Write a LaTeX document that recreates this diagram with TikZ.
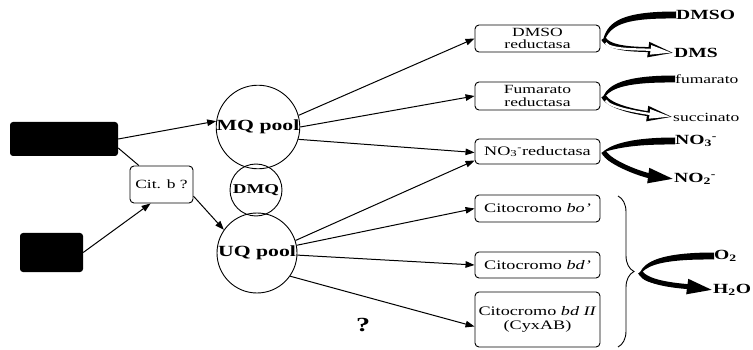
\documentclass[tikz,border=0pt]{standalone}
\usepackage{fontspec}
\setmainfont{Liberation Serif}[FakeStretch=1.4]
\usetikzlibrary{arrows.meta, calc, decorations.pathreplacing}

\begin{document}
\begin{tikzpicture}[x=1pt, y=-1pt,
    enzyme/.style={draw, line width=0.9pt, rounded corners=4pt, minimum width=125pt,
        inner sep=1pt, align=center, font=\fontsize{12.5}{12.5}\selectfont},
    pool/.style={draw, circle, line width=0.9pt, inner sep=0pt,
        font=\bfseries\fontsize{15.5}{17}\selectfont},
    donor/.style={fill=black, rounded corners=3pt},
    flow/.style={line width=1pt, -{Triangle[length=9pt,width=6.5pt]}},
    product/.style={anchor=west, inner sep=0pt, font=\bfseries\fontsize{14}{15}\selectfont}]
    \useasboundingbox (0,0) rectangle (753,350);

    % electron donors and cytochrome b
    \node[donor, minimum width=108pt, minimum height=34pt] (don1) at (64,139) {};
    \node[donor, minimum width=63pt, minimum height=39pt] (don2) at (51.5,252.5) {};
    \node[draw, line width=0.9pt, rounded corners=4pt, minimum width=63pt, minimum height=37pt,
        inner sep=1pt, font=\fontsize{12.5}{13}\selectfont] (citb) at (161.5,184.5) {Cit. b ?};

    % quinone pools
    \node[pool, minimum size=79pt] (mq) at (258,127) {MQ pool};
    \node[pool, minimum size=52pt, font=\bfseries\fontsize{13.5}{15}\selectfont] (dmq) at (256,190) {DMQ};
    \node[pool, minimum size=80pt] (uq) at (257,253) {UQ pool};

    % terminal enzymes
    \node[enzyme, minimum height=27pt] (dmso) at (537.5,38.5) {DMSO\\reductasa};
    \node[enzyme, minimum height=28pt] (fum) at (537.5,96) {Fumarato\\reductasa};
    \node[enzyme, minimum height=25pt, font=\fontsize{13}{14}\selectfont] (no3) at (537.5,151.5) {NO\textsubscript{3}\textsuperscript{-}reductasa};
    \node[enzyme, minimum height=27pt, font=\fontsize{13}{14}\selectfont] (bo) at (537.5,208.5) {Citocromo \textit{bo'}};
    \node[enzyme, minimum height=26pt, font=\fontsize{13}{14}\selectfont] (bd) at (537.5,265) {Citocromo \textit{bd'}};
    \node[enzyme, minimum height=55pt, font=\fontsize{13}{14}\selectfont] (bdii) at (537.5,319.5) {Citocromo \textit{bd II}\\(CyxAB)};

    \node[font=\bfseries\fontsize{20}{22}\selectfont] (q) at (363,325) {?};

    % substrates and products
    \node[product] (dmsoa) at (676,15) {DMSO};
    \node[product] (dms) at (674,53) {DMS};
    \node[product, font=\fontsize{12.5}{14}\selectfont] (fuma) at (675,79) {fumarato};
    \node[product, font=\fontsize{12.5}{14}\selectfont] (succ) at (673,117) {succinato};
    \node[product] (nitra) at (675,141) {NO\textsubscript{3}\textsuperscript{-}};
    \node[product] (nitri) at (674,179) {NO\textsubscript{2}\textsuperscript{-}};
    \node[product] (oxy) at (714,256) {O\textsubscript{2}};
    \node[product] (water) at (713,290) {H\textsubscript{2}O};

    % connectors
    \draw[flow] (don1.east) -- (mq.172);
    \draw[line width=1pt] ([yshift=-9pt]don1.east) -- (citb.140);
    \draw[flow] (don2.east) -- (citb.240);
    \draw[flow] (citb.-20) -- (uq.145);

    \draw[flow] (mq.16) -- (dmso.west);
    \draw[flow] (mq.0) -- (fum.west);
    \draw[flow] (mq.-17) -- ([yshift=-1pt]no3.west);
    \draw[flow] (uq.18) -- ([yshift=-9pt]no3.west);
    \draw[flow] (uq.11) -- (bo.west);
    \draw[flow] (uq.-3) -- (bd.west);
    \draw[flow] (uq.-35) -- ([yshift=-7pt]bdii.west);

    % oxidases brace
    \draw[line width=0.9pt, decorate, decoration={brace, amplitude=16pt}] (618,196) -- (618,347);
    \node[inner sep=0pt, minimum size=0pt] (ox) at (637,272) {};

    % forks: substrate in, product out
    \foreach \enz/\up/\down/\tint in {dmso/dmsoa/dms/white, fum/fuma/succ/white,
                                      no3/nitra/nitri/black, ox/oxy/water/black} {
        \fill let \p1=([xshift=3pt]\enz.east), \p2=(\up.west) in
            (\x1,\y1) .. controls (\x1+5pt,\y2-6pt) and (\x1+20pt,\y2+3.5pt) .. (\x2,\y2+3.5pt)
            -- (\x2,\y2-3.5pt) .. controls (\x1+24pt,\y2-3pt) and (\x1+9pt,\y2-9pt) .. (\x1+2pt,\y1) -- cycle;
        \draw[line width=5pt, -{Triangle[length=26pt,width=14pt]}]
            ([xshift=3pt]\enz.east) .. controls +(6pt,-12pt) and +(-30pt,4pt) .. (\down.west);
        \draw[\tint, line width=2.2pt, shorten <=5pt, shorten >=2.6pt, -{Triangle[length=21pt,width=9pt]}]
            ([xshift=3pt]\enz.east) .. controls +(6pt,-12pt) and +(-30pt,4pt) .. (\down.west);
    }
\end{tikzpicture}
\end{document}
